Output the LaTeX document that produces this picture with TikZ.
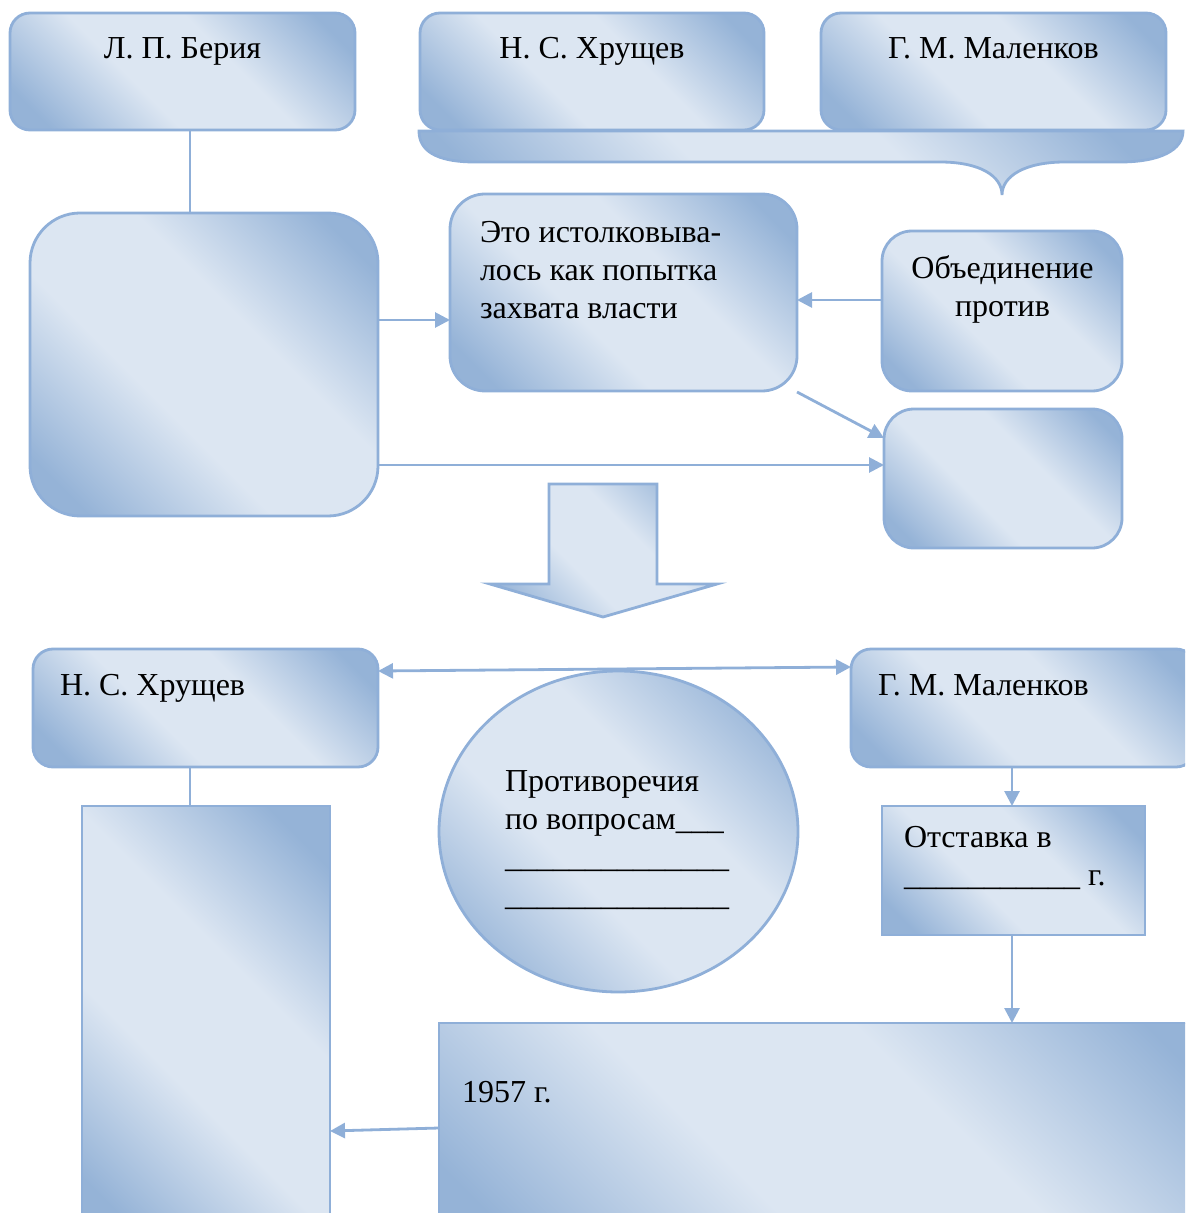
\documentclass[tikz,border=0pt]{standalone}
\usepackage{fontspec}
\setmainfont{Liberation Serif}
\usetikzlibrary{shapes.geometric,arrows.meta}
\definecolor{dk}{HTML}{95B3D7}
\definecolor{lt}{HTML}{DCE6F2}
\definecolor{bd}{HTML}{8FAFD8}
\pgfdeclareverticalshading{diagshade}{100bp}{color(0bp)=(dk); color(21bp)=(dk); color(41bp)=(lt); color(59bp)=(lt); color(79bp)=(dk); color(100bp)=(dk)}
\tikzset{
 grad/.style={shade, shading=diagshade, shading angle=-45},
 shp/.style={grad, draw=bd, line width=1.4pt},
 box/.style={shp, inner sep=0pt, outer sep=0pt},
 rbox/.style={box, rounded corners=#1},
 conn/.style={draw=bd, line width=1.4pt},
 arr/.style={conn, -{Triangle[length=7.5pt,width=7.5pt]}},
 dbl/.style={conn, {Triangle[length=7.5pt,width=7.5pt]}-{Triangle[length=7.5pt,width=7.5pt]}},
 txt/.style={font=\fontsize{16}{19}\selectfont, inner sep=0pt, outer sep=0pt, text=black},
}
\begin{document}
\begin{tikzpicture}[x=0.5pt,y=-0.5pt]
\useasboundingbox (0,0) rectangle (1185,1213);
\clip (0,0) rectangle (1185,1213);
% top boxes
\node[rbox=10pt, minimum width=172.5pt, minimum height=58.5pt] (beria) at (182.5,71.5) {};
\node[rbox=10pt, minimum width=172pt, minimum height=58.5pt] (khr1) at (592,71.5) {};
\node[rbox=10pt, minimum width=172.5pt, minimum height=58.5pt] (mal1) at (993.5,71.5) {};
\node[txt, anchor=base] (tberia) at (182.5,59) {Л. П. Берия};
\node[txt, anchor=base] (tkhr1) at (592,59) {Н. С. Хрущев};
\node[txt, anchor=base] (tmal1) at (993.5,59) {Г. М. Маленков};
% brace
\path[shp] (419,131) -- (1183,131) .. controls (1183,150) and (1160,162) .. (1120,162)
  -- (1065,162) .. controls (1025,162) and (1002,176) .. (1002,195)
  .. controls (1002,176) and (980,162) .. (940,162)
  -- (475,162) .. controls (435,162) and (419,150) .. (419,131) -- cycle;
% middle section
\node[rbox=25pt, minimum width=174pt, minimum height=151.5pt] (big) at (204,364.5) {};
\node[rbox=17.5pt, minimum width=173.5pt, minimum height=98.5pt] (eto) at (623.5,292.5) {};
\node[rbox=15pt, minimum width=120pt, minimum height=80pt] (obed) at (1002,311) {};
\node[rbox=15pt, minimum width=119pt, minimum height=69.5pt] (small) at (1003,478.5) {};
\node[txt, anchor=north west, align=left] (teto) at (480,216.4) {\strut Это истолковыва-\\лось как попытка\\захвата власти};
\node[txt, anchor=north, align=center] (tobed) at (1002.5,252.4) {\strut Объединение\\против};
% block arrow
\path[shp] (549,484) -- (657,484) -- (657,584) -- (717,584) -- (603,617) -- (490,584) -- (549,584) -- cycle;
% bottom section
\node[rbox=10pt, minimum width=172.5pt, minimum height=59pt] (khr2) at (205.5,708) {};
\node[rbox=10pt, minimum width=172.5pt, minimum height=59pt] (mal2) at (1023.5,708) {};
\node[txt, anchor=base west] (tkhr2) at (60,695) {Н. С. Хрущев};
\node[txt, anchor=base west] (tmal2) at (878,695) {Г. М. Маленков};
\node[box, ellipse, minimum width=179.5pt, minimum height=160.5pt] (circ) at (618.5,831.5) {};
\node[txt, anchor=north west, align=left] (tcirc) at (505,764.4) {\strut Противоречия\\по вопросам\_\_\_\\\_\_\_\_\_\_\_\_\_\_\_\_\_\_\\\_\_\_\_\_\_\_\_\_\_\_\_\_\_};
\node[box, minimum width=124pt, minimum height=217pt] (tall) at (206,1023) {};
\node[box, minimum width=131.5pt, minimum height=64.5pt] (otst) at (1013.5,870.5) {};
\node[txt, anchor=north west, align=left] (totst) at (904,820.4) {\strut Отставка в\\\_\_\_\_\_\_\_\_\_\_\_ г.};
\node[box, minimum width=400.5pt, minimum height=118.5pt] (bottom) at (839.5,1141.5) {};
\node[txt, anchor=base west] (t1957) at (462,1102) {1957 г.};
% connectors
\draw[conn] (beria.south -| 190,0) -- (big.north -| 190,0);
\draw[arr] (obed.west |- 0,300) -- (eto.east |- 0,300);
\draw[arr] (big.east |- 0,320) -- (eto.west |- 0,320);
\draw[arr] (797,392) -- (small.west |- 0,438);
\draw[arr] (big.east |- 0,465) -- (small.west |- 0,465);
\draw[dbl] (khr2.east |- 0,671) -- (mal2.west |- 0,667);
\draw[conn] (khr2.south -| 190,0) -- (tall.north -| 190,0);
\draw[arr] (mal2.south -| 1012,0) -- (otst.north -| 1012,0);
\draw[arr] (otst.south -| 1012,0) -- (bottom.north -| 1012,0);
\draw[arr] (bottom.west |- 0,1128) -- (tall.east |- 0,1131);
\end{tikzpicture}
\end{document}
